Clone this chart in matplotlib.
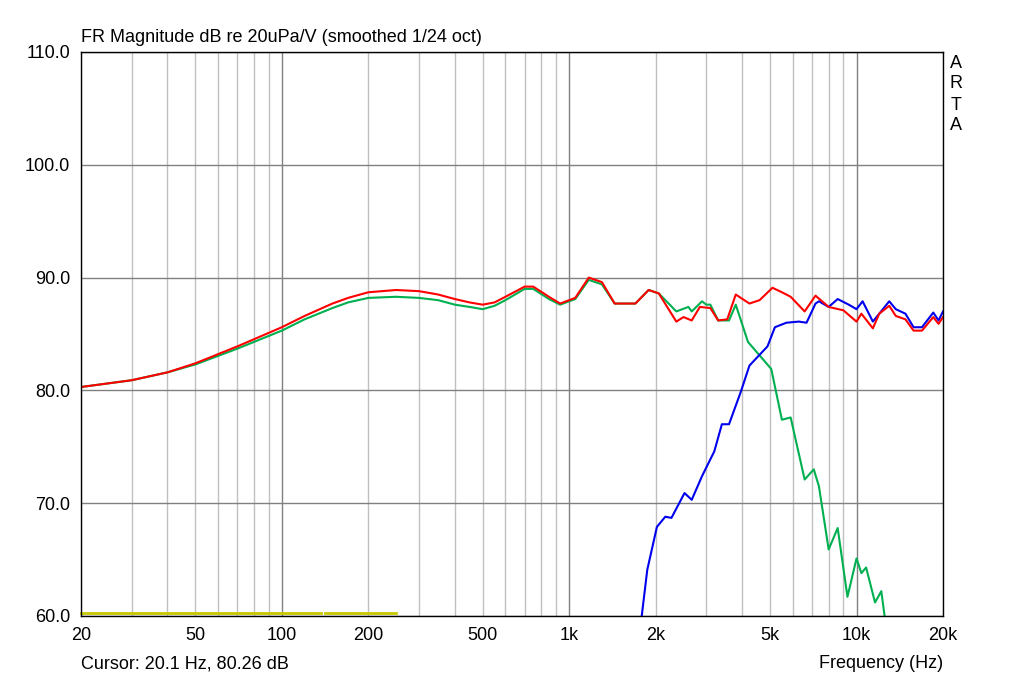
import matplotlib
matplotlib.use("Agg")
import matplotlib.pyplot as plt
import numpy as np

plt.rcParams['font.family'] = ['Liberation Sans', 'DejaVu Sans']

red_f = [20,30,40,50,70,100,120,150,170,200,250,300,350,400,450,500,550,600,700,750,850,930,1050,1170,1300,1440,1550,1700,1890,2050,2360,2500,2670,2850,3100,3300,3550,3800,4240,4600,5100,5500,5900,6600,7200,8000,9000,10000,10400,11400,12000,13000,13700,14800,15800,16900,18500,19300,20000]
red_db = [80.3,80.9,81.6,82.4,83.9,85.6,86.6,87.7,88.2,88.7,88.9,88.8,88.5,88.1,87.8,87.6,87.8,88.3,89.2,89.2,88.3,87.7,88.2,90.0,89.6,87.7,87.7,87.7,88.9,88.6,86.1,86.5,86.2,87.4,87.3,86.2,86.3,88.5,87.7,88.0,89.1,88.7,88.3,87.0,88.4,87.4,87.1,86.1,86.8,85.5,86.8,87.5,86.6,86.3,85.3,85.3,86.5,85.9,86.5]

green_f = [20,30,40,50,70,100,120,150,170,200,250,300,350,400,450,500,550,600,700,750,850,930,1050,1170,1300,1440,1550,1700,1890,2050,2360,2600,2670,2900,3000,3100,3300,3600,3800,4190,4600,5050,5500,5900,6600,7100,7400,8000,8600,9300,10000,10400,10800,11600,12200,12600]
green_db = [80.3,80.9,81.6,82.3,83.7,85.3,86.3,87.3,87.8,88.2,88.3,88.2,88.0,87.6,87.4,87.2,87.5,88.0,89.0,89.0,88.1,87.6,88.1,89.8,89.4,87.7,87.7,87.7,88.9,88.6,87.0,87.4,87.0,87.9,87.6,87.6,86.2,86.2,87.6,84.3,83.1,81.9,77.4,77.6,72.1,73.0,71.5,65.9,67.8,61.7,65.1,63.8,64.3,61.2,62.2,59.5]

blue_f = [1779,1870,2020,2160,2270,2520,2670,2900,3200,3400,3600,3960,4240,4900,5200,5700,6300,6700,7200,7400,8000,8600,9400,10000,10500,11400,12000,13000,13700,14800,15800,16900,18500,19300,20000]
blue_db = [59.5,64.1,67.9,68.8,68.7,70.9,70.3,72.4,74.6,77.0,77.0,79.9,82.2,83.9,85.6,86.0,86.1,86.0,87.7,87.9,87.4,88.1,87.6,87.2,87.9,86.1,86.8,87.9,87.2,86.8,85.6,85.6,86.9,86.2,87.0]

yellow_f1 = [20, 137]
yellow_f2 = [141, 249]
yellow_db = [60.25, 60.25]

xticks = [20,50,100,200,500,1000,2000,5000,10000,20000]
xlabels = ["20","50","100","200","500","1k","2k","5k","10k","20k"]
yticks = [60,70,80,90,100,110]

fig = plt.figure(figsize=(10.24,6.87), dpi=100)
ax = fig.add_axes([81/1024, 71/687, 862/1024, 564/687])
ax.set_xscale("log")
ax.set_xlim(20,20000)
ax.set_ylim(60,110)

minor = []
for d in [10,100,1000,10000]:
    for m in range(2,10):
        v = d*m
        if 20 <= v <= 20000:
            minor.append(v)
for v in minor:
    ax.axvline(v, color="#c0c0c0", lw=1, zorder=0)
for v in [100,1000,10000]:
    ax.axvline(v, color="#808080", lw=1, zorder=0)
for v in yticks:
    ax.axhline(v, color="#808080", lw=1, zorder=0)

ax.plot(yellow_f1, yellow_db, color="#c8c800", lw=2, clip_on=False)
ax.plot(yellow_f2, yellow_db, color="#c8c800", lw=2, clip_on=False)
ax.plot(green_f, green_db, color="#00b050", lw=1.5)
ax.plot(blue_f, blue_db, color="#0000ee", lw=1.5)
ax.plot(red_f, red_db, color="#ff0000", lw=1.5)

ax.set_xticks(xticks)
ax.set_xticklabels(xlabels)
ax.xaxis.set_minor_locator(matplotlib.ticker.NullLocator())
ax.set_yticks(yticks)
ax.set_yticklabels([f"{v:.1f}" for v in yticks])
ax.tick_params(length=0, labelsize=13, pad=8)
for s in ax.spines.values():
    s.set_color("black"); s.set_linewidth(1)

fig.text(81/1024, 1-38/687, "FR Magnitude dB re 20uPa/V (smoothed 1/24 oct)", fontsize=13, va="center", ha="left")
for i, ch in enumerate("ARTA"):
    fig.text(956/1024, 1-(63+21*i)/687, ch, fontsize=13, ha="center", va="center")
fig.text(81/1024, 1-664/687, "Cursor: 20.1 Hz, 80.26 dB", fontsize=13, va="center", ha="left")
fig.text(943/1024, 1-664/687, "Frequency (Hz)", fontsize=13, va="center", ha="right")
fig.savefig("out.png", dpi=100)
